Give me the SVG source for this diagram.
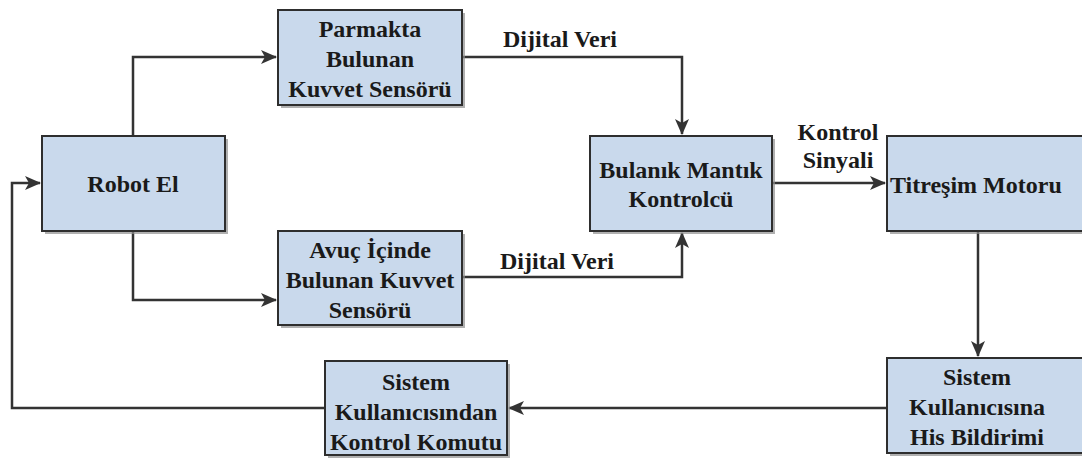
<svg xmlns="http://www.w3.org/2000/svg" width="1082" height="458" viewBox="0 0 1082 458">
<defs>
<style>
.box{fill:#c9d9ec;stroke:#2e2e2e;stroke-width:2}
.sh{fill:#8f8f8f;opacity:0.7}
text{font-family:'Liberation Serif','DejaVu Serif',serif;font-weight:700;font-size:24px;fill:#1a1a1a;text-anchor:middle}
.c{fill:none;stroke:#333;stroke-width:2.5}
</style>
<marker id="ah" markerUnits="userSpaceOnUse" markerWidth="16" markerHeight="14" refX="15" refY="7" orient="auto">
<path d="M0,0 L16,7 L0,14 L4,7 z" fill="#333"/>
</marker>
</defs>
<rect width="1082" height="458" fill="#fff"/>
<g id="connectors">
<path class="c" d="M133,136 V57 H276" marker-end="url(#ah)"/>
<path class="c" d="M133,231 V300 H276" marker-end="url(#ah)"/>
<path class="c" d="M462,57 H682 V134" marker-end="url(#ah)"/>
<path class="c" d="M462,277 H682 V233" marker-end="url(#ah)"/>
<path class="c" d="M772,183 H885" marker-end="url(#ah)"/>
<path class="c" d="M978,231 V356" marker-end="url(#ah)"/>
<path class="c" d="M887,408 H509" marker-end="url(#ah)"/>
<path class="c" d="M325,408 H12 V183 H40" marker-end="url(#ah)"/>
<text x="560" y="47">Dijital Veri</text>
<text x="557" y="269">Dijital Veri</text>
<text x="838" y="140">Kontrol</text>
<text x="838" y="168">Sinyali</text>
</g>
<g id="robot-el">
<rect class="sh" x="45" y="139" width="183" height="95"/>
<rect class="box" x="42" y="136" width="183" height="95"/>
<text x="133" y="192">Robot El</text>
</g>
<g id="parmakta">
<rect class="sh" x="281" y="13" width="184" height="95"/>
<rect class="box" x="278" y="10" width="184" height="95"/>
<text x="370" y="37">Parmakta</text>
<text x="370" y="67">Bulunan</text>
<text x="370" y="97">Kuvvet Sensörü</text>
</g>
<g id="avuc">
<rect class="sh" x="281" y="234" width="184" height="94"/>
<rect class="box" x="278" y="231" width="184" height="94"/>
<text x="370" y="258">Avuç İçinde</text>
<text x="370" y="288">Bulunan Kuvvet</text>
<text x="370" y="318">Sensörü</text>
</g>
<g id="bulanik">
<rect class="sh" x="593" y="139" width="182" height="95"/>
<rect class="box" x="590" y="136" width="182" height="95"/>
<text x="681" y="178">Bulanık Mantık</text>
<text x="681" y="207">Kontrolcü</text>
</g>
<g id="titresim">
<rect class="sh" x="890" y="139" width="220" height="95"/>
<rect class="box" x="887" y="136" width="220" height="95"/>
<text x="890" y="193" style="text-anchor:start">Titreşim Motoru</text>
</g>
<g id="his-bildirimi">
<rect class="sh" x="890" y="361" width="220" height="95"/>
<rect class="box" x="887" y="358" width="220" height="95"/>
<text x="977" y="385">Sistem</text>
<text x="977" y="415">Kullanıcısına</text>
<text x="977" y="445">His Bildirimi</text>
</g>
<g id="kontrol-komutu">
<rect class="sh" x="328" y="364" width="182" height="94"/>
<rect class="box" x="325" y="361" width="182" height="94"/>
<text x="416" y="390">Sistem</text>
<text x="416" y="420">Kullanıcısından</text>
<text x="416" y="450">Kontrol Komutu</text>
</g>
</svg>
